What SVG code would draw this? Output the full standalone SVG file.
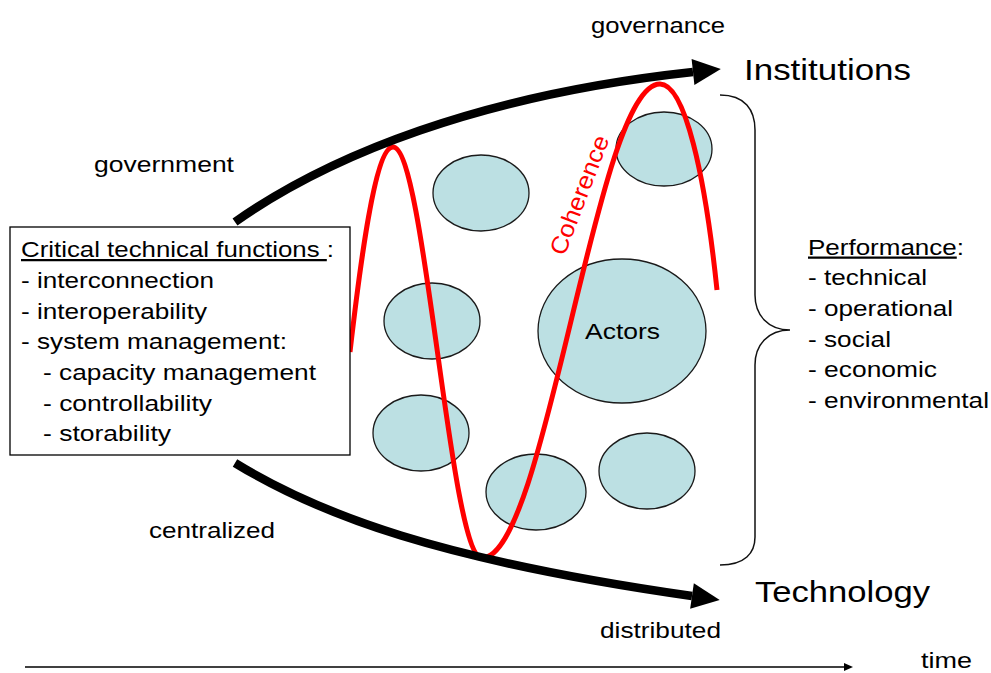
<svg xmlns="http://www.w3.org/2000/svg" width="991" height="673" viewBox="0 0 991 673">
  <style>
    text { font-family: "Liberation Sans", Arial, sans-serif; fill: #000; }
    .body { font-size: 22.5px; }
    .title { font-size: 30px; }
    .actor { fill: #bce0e3; stroke: #1a1a1a; stroke-width: 1.3; }
    .wave { fill: none; stroke: #ff0000; stroke-width: 5; }
    .trend { fill: none; stroke: #000; stroke-width: 8.5; }
  </style>
  <defs>
    <marker id="bighead" markerUnits="userSpaceOnUse" markerWidth="30" markerHeight="30" refX="0" refY="13" orient="auto" viewBox="0 0 30 26" overflow="visible">
      <path d="M0,0 L28,13 L0,26 z" fill="#000"/>
    </marker>
    <marker id="smallhead" markerUnits="userSpaceOnUse" markerWidth="10" markerHeight="8" refX="0" refY="4" orient="auto" viewBox="0 0 10 8" overflow="visible">
      <path d="M0,0 L9,4 L0,8 z" fill="#000"/>
    </marker>
  </defs>

  <rect width="991" height="673" fill="#fff"/>

  <!-- actors -->
  <g id="actor-1"><ellipse class="actor" cx="481" cy="193" rx="48" ry="38"/></g>
  <g id="actor-2"><ellipse class="actor" cx="664" cy="149" rx="48" ry="37"/></g>
  <g id="actor-3"><ellipse class="actor" cx="432" cy="321" rx="48" ry="38"/></g>
  <g id="actor-main">
    <ellipse class="actor" cx="622" cy="331" rx="84" ry="72"/>
    <text class="body" x="585" y="339" textLength="75" lengthAdjust="spacingAndGlyphs">Actors</text>
  </g>
  <g id="actor-5"><ellipse class="actor" cx="421" cy="433" rx="48" ry="38"/></g>
  <g id="actor-6"><ellipse class="actor" cx="647" cy="471" rx="48" ry="38"/></g>
  <g id="actor-7"><ellipse class="actor" cx="536" cy="492" rx="50" ry="38"/></g>

  <!-- coherence wave -->
  <g id="coherence">
    <path class="wave" d="M350,352 C360,265 375,147 393,147 C425,147 450,558 482,558 C546,558 596,84 660,84 C685,84 705,175 717,290"/>
    <text class="body" x="0" y="0" text-anchor="middle" transform="translate(587,198) rotate(-69)" textLength="126" lengthAdjust="spacingAndGlyphs" style="fill:#ff0000;font-size:24px">Coherence</text>
  </g>

  <!-- connectors -->
  <g id="connectors">
    <path class="trend" d="M235,222 C330,155 480,95 693,72" marker-end="url(#bighead)"/>
    <path class="trend" d="M235,463 C320,515 440,560 692,596" marker-end="url(#bighead)"/>
    <line x1="25" y1="667" x2="844" y2="667" stroke="#000" stroke-width="1.3" marker-end="url(#smallhead)"/>
    <path d="M720,95 C745,95 755,110 755,130 L755,295 C755,315 768,330 790,330 C768,330 755,345 755,365 L755,537 C755,553 745,565 720,565" fill="none" stroke="#111" stroke-width="1.5"/>
  </g>

  <!-- critical functions box -->
  <g id="functions">
    <rect x="10" y="227" width="340" height="228" fill="#fff" stroke="#000" stroke-width="1.3"/>
    <text class="body" x="21" y="257" textLength="313" lengthAdjust="spacingAndGlyphs"><tspan text-decoration="underline">Critical technical functions </tspan>:</text>
    <text class="body" x="21" y="288" textLength="193" lengthAdjust="spacingAndGlyphs">- interconnection</text>
    <text class="body" x="21" y="318.5" textLength="186" lengthAdjust="spacingAndGlyphs">- interoperability</text>
    <text class="body" x="21" y="349" textLength="266" lengthAdjust="spacingAndGlyphs">- system management:</text>
    <text class="body" x="43" y="380" textLength="273" lengthAdjust="spacingAndGlyphs">- capacity management</text>
    <text class="body" x="43" y="410.5" textLength="169" lengthAdjust="spacingAndGlyphs">- controllability</text>
    <text class="body" x="43" y="441" textLength="128" lengthAdjust="spacingAndGlyphs">- storability</text>
  </g>

  <!-- performance list -->
  <g id="performance">
    <text class="body" x="808" y="254.5" textLength="156" lengthAdjust="spacingAndGlyphs"><tspan text-decoration="underline">Performance</tspan>:</text>
    <text class="body" x="808" y="285" textLength="119" lengthAdjust="spacingAndGlyphs">- technical</text>
    <text class="body" x="808" y="316" textLength="145" lengthAdjust="spacingAndGlyphs">- operational</text>
    <text class="body" x="808" y="346.5" textLength="83" lengthAdjust="spacingAndGlyphs">- social</text>
    <text class="body" x="808" y="377" textLength="129" lengthAdjust="spacingAndGlyphs">- economic</text>
    <text class="body" x="808" y="408" textLength="181" lengthAdjust="spacingAndGlyphs">- environmental</text>
  </g>

  <!-- axis labels -->
  <g id="labels">
    <text class="body" x="591" y="33" textLength="134" lengthAdjust="spacingAndGlyphs">governance</text>
    <text class="title" x="744" y="80" textLength="167" lengthAdjust="spacingAndGlyphs">Institutions</text>
    <text class="body" x="94" y="172" textLength="140" lengthAdjust="spacingAndGlyphs">government</text>
    <text class="body" x="149" y="538" textLength="126" lengthAdjust="spacingAndGlyphs">centralized</text>
    <text class="title" x="755" y="602" textLength="175" lengthAdjust="spacingAndGlyphs">Technology</text>
    <text class="body" x="600" y="638" textLength="121" lengthAdjust="spacingAndGlyphs">distributed</text>
    <text class="body" x="921" y="668" textLength="51" lengthAdjust="spacingAndGlyphs">time</text>
  </g>
</svg>
